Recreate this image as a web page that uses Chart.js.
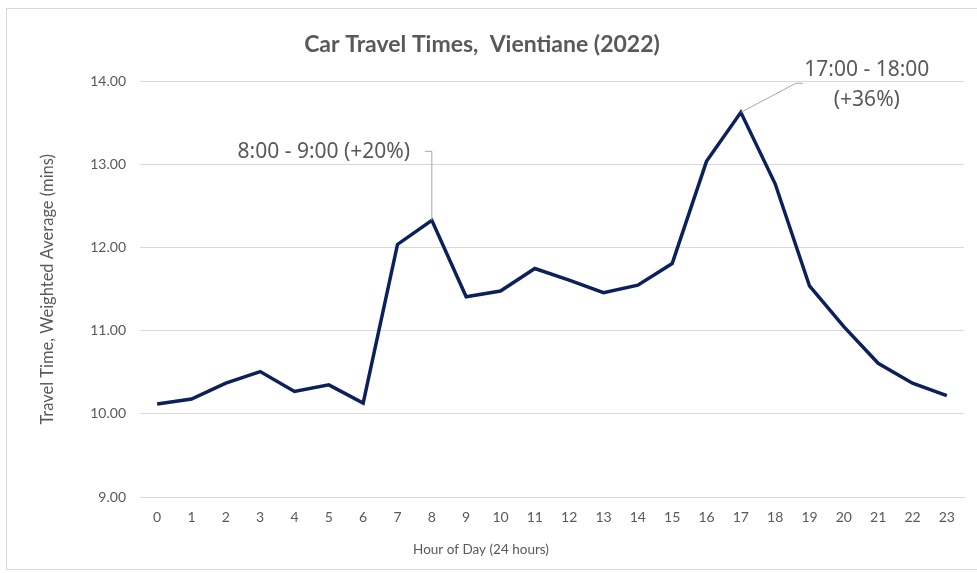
<!DOCTYPE html>
<html>
<head>
<meta charset="utf-8">
<script src="https://cdn.jsdelivr.net/npm/chart.js@4/dist/chart.umd.min.js"></script>
<style>
  html, body { margin: 0; padding: 0; background: #ffffff; }
  #wrap { position: relative; width: 977px; height: 573px; overflow: hidden; }
  #frame { position: absolute; left: 6px; top: 8px; width: 990px; height: 562px; border: 1px solid #d9d9d9; box-sizing: border-box; pointer-events: none; }
  canvas { position: absolute; left: 0; top: 0; }
</style>
</head>
<body>
<div id="wrap">
  <canvas id="c" width="977" height="573"></canvas>
  <div id="frame"></div>
</div>
<script>
const hours = ['0','1','2','3','4','5','6','7','8','9','10','11','12','13','14','15','16','17','18','19','20','21','22','23'];
const travelTime = [10.12, 10.18, 10.37, 10.51, 10.27, 10.35, 10.13, 12.04, 12.33, 11.41, 11.48, 11.75, 11.61, 11.46, 11.55, 11.81, 13.04, 13.63, 12.77, 11.54, 11.05, 10.61, 10.37, 10.22];
const yTicks = [9, 10, 11, 12, 13, 14];
const chartTitle = 'Car Travel Times,  Vientiane (2022)';
const xTitle = 'Hour of Day (24 hours)';
const yTitle = 'Travel Time, Weighted Average (mins)';
const annotations = [
  { index: 8, lines: ['8:00 - 9:00 (+20%)'] },
  { index: 17, lines: ['17:00 - 18:00', '(+36%)'] }
];

const FONT = 'Lato, "Open Sans", sans-serif';
const NOTE_FONT = '"Noto Sans", "Open Sans", sans-serif';
const GREY = '#595959';

const annotationPlugin = {
  id: 'callouts',
  afterDatasetsDraw(chart) {
    const ctx = chart.ctx;
    const xs = chart.scales.x, ys = chart.scales.y;
    ctx.save();
    // x axis title centred on the whole chart
    ctx.fillStyle = GREY;
    ctx.font = '13.5px ' + FONT;
    ctx.textAlign = 'center';
    ctx.textBaseline = 'middle';
    ctx.fillText(xTitle, 481, 550);

    ctx.font = '21px ' + NOTE_FONT;
    ctx.strokeStyle = '#a6a6a6';
    ctx.lineWidth = 1;
    // first callout
    const a = annotations[0];
    let px = xs.getPixelForValue(a.index), py = ys.getPixelForValue(travelTime[a.index]);
    ctx.beginPath();
    ctx.moveTo(px, py);
    ctx.lineTo(px, py - 69);
    ctx.lineTo(px - 7, py - 69);
    ctx.stroke();
    ctx.fillText(a.lines[0], px - 108, py - 68);
    // second callout
    const b = annotations[1];
    px = xs.getPixelForValue(b.index); py = ys.getPixelForValue(travelTime[b.index]);
    ctx.beginPath();
    ctx.moveTo(px, py);
    ctx.lineTo(px + 55, py - 29);
    ctx.lineTo(px + 62, py - 29);
    ctx.stroke();
    ctx.fillText(b.lines[0], px + 126, py - 42);
    ctx.fillText(b.lines[1], px + 126, py - 12);
    ctx.restore();
  }
};

new Chart(document.getElementById('c'), {
  type: 'line',
  data: {
    labels: hours,
    datasets: [{
      data: travelTime,
      borderColor: '#0c215c',
      borderWidth: 3.5,
      pointRadius: 0,
      tension: 0,
      fill: false
    }]
  },
  options: {
    responsive: false,
    animation: false,
    events: [],
    layout: { padding: { left: 0, right: 13, top: 0, bottom: 0 } },
    plugins: {
      legend: { display: false },
      tooltip: { enabled: false },
      title: {
        display: true,
        text: chartTitle,
        color: GREY,
        font: { family: FONT, size: 23, weight: 'bold' },
        padding: { top: 31, bottom: 23 }
      }
    },
    scales: {
      x: {
        type: 'category',
        offset: true,
        grid: { display: false, drawTicks: false },
        border: { display: true, color: '#d9d9d9', width: 1 },
        ticks: { color: GREY, font: { family: FONT, size: 14 }, padding: 12, maxRotation: 0, autoSkip: false },
        afterFit(s) { s.height = 76; }
      },
      y: {
        min: 9,
        max: 14,
        afterBuildTicks(s) { s.ticks = yTicks.map(v => ({ value: v })); },
        grid: { color: '#d9d9d9', drawTicks: false, lineWidth: 1 },
        border: { display: false },
        ticks: { color: GREY, font: { family: FONT, size: 14 }, padding: 14, callback: v => Number(v).toFixed(2) },
        title: { display: true, text: yTitle, color: GREY, font: { family: FONT, size: 16.5 }, padding: { top: 38, bottom: 0 } },
        afterFit(s) { s.width = 140; }
      }
    }
  },
  plugins: [annotationPlugin]
});
</script>
</body>
</html>
